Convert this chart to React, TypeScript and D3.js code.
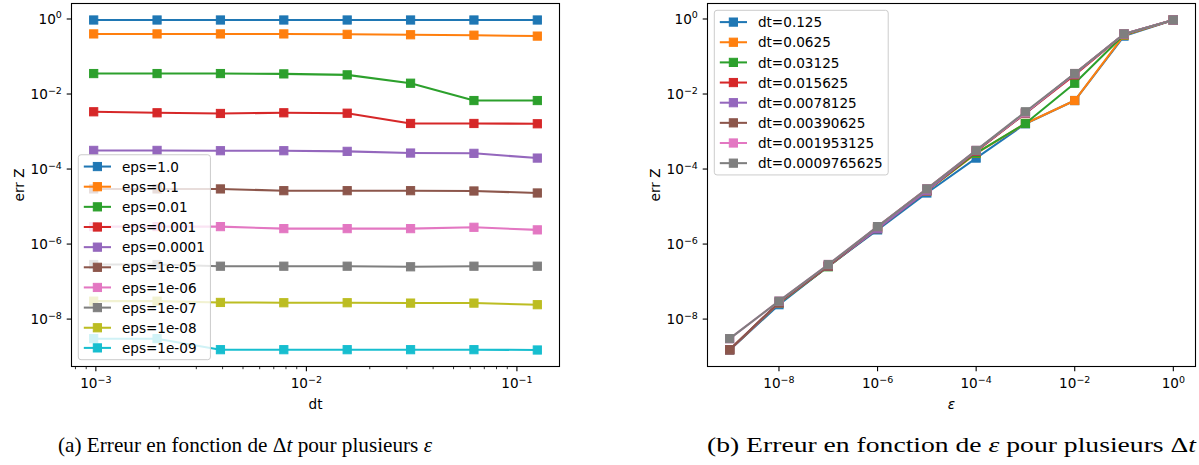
import React, { useMemo } from "react";
import * as d3 from "d3";

// time steps (legend order of the right panel)
const dtValues = [0.125, 0.0625, 0.03125, 0.015625, 0.0078125, 0.00390625, 0.001953125, 0.0009765625];
const dtLabels = [
  "dt=0.125",
  "dt=0.0625",
  "dt=0.03125",
  "dt=0.015625",
  "dt=0.0078125",
  "dt=0.00390625",
  "dt=0.001953125",
  "dt=0.0009765625",
];

const epsValues = [1, 0.1, 0.01, 1e-3, 1e-4, 1e-5, 1e-6, 1e-7, 1e-8, 1e-9];
const epsLabels = [
  "eps=1.0",
  "eps=0.1",
  "eps=0.01",
  "eps=0.001",
  "eps=0.0001",
  "eps=1e-05",
  "eps=1e-06",
  "eps=1e-07",
  "eps=1e-08",
  "eps=1e-09",
];

// err Z for each eps, one value per dt (same order as dtValues)
const errEps1e0 = [0.94, 0.94, 0.94, 0.94, 0.94, 0.94, 0.94, 0.94];
const errEps1e1 = [0.35, 0.37, 0.38, 0.39, 0.4, 0.4, 0.4, 0.4];
const errEps1e2 = [0.0067, 0.0067, 0.0194, 0.0324, 0.0344, 0.0351, 0.0351, 0.0351];
const errEps1e3 = [0.00161, 0.00164, 0.00164, 0.00308, 0.00316, 0.00303, 0.00316, 0.00336];
const errEps1e4 = [1.96e-4, 2.62e-4, 2.67e-4, 2.96e-4, 3.08e-4, 3.08e-4, 3.14e-4, 3.14e-4];
const errEps1e5 = [2.3e-5, 2.6e-5, 2.65e-5, 2.65e-5, 2.65e-5, 2.95e-5, 2.95e-5, 2.95e-5];
const errEps1e6 = [2.39e-6, 2.8e-6, 2.58e-6, 2.58e-6, 2.58e-6, 2.92e-6, 2.92e-6, 2.92e-6];
const errEps1e7 = [2.57e-7, 2.57e-7, 2.48e-7, 2.57e-7, 2.57e-7, 2.57e-7, 2.85e-7, 2.85e-7];
const errEps1e8 = [2.42e-8, 2.67e-8, 2.67e-8, 2.73e-8, 2.73e-8, 2.78e-8, 3.01e-8, 3.01e-8];
const errEps1e9 = [1.5e-9, 1.53e-9, 1.53e-9, 1.53e-9, 1.53e-9, 1.53e-9, 3.01e-9, 3.01e-9];

const errByEps = [
  errEps1e0, errEps1e1, errEps1e2, errEps1e3, errEps1e4,
  errEps1e5, errEps1e6, errEps1e7, errEps1e8, errEps1e9,
];

// tick exponents
const yTickExps = [0, -2, -4, -6, -8];
const xTickExpsDt = [-3, -2, -1];
const xTickExpsEps = [-8, -6, -4, -2, 0];

const palette = d3.schemeCategory10;

const FONT = "DejaVu Sans";
const FS = 13.6;
const SUP = 9.5;
const LW = 2.04;
const MS = 8.2;
const TICK = 4.8;
const MINOR = 2.7;

const TOP = 3.5;
const BOTTOM = 366.5;
const PANEL_A = { x0: 71.5, x1: 559.5 };
const PANEL_B = { x0: 707.5, x1: 1195.5 };

type Pt = [number, number];

function paddedLogDomain(vals: number[]): [number, number] {
  const lo = Math.log10(d3.min(vals)!);
  const hi = Math.log10(d3.max(vals)!);
  const m = (hi - lo) * 0.05;
  return [Math.pow(10, lo - m), Math.pow(10, hi + m)];
}

let ctx: CanvasRenderingContext2D | null = null;
function textWidth(s: string): number {
  if (!ctx) ctx = document.createElement("canvas").getContext("2d");
  if (!ctx) return s.length * FS * 0.6;
  ctx.font = `${FS}px "${FONT}"`;
  return ctx.measureText(s).width;
}

function expLabel(e: number) {
  return e < 0 ? "\u2212" + String(-e) : String(e);
}

function PowText(props: { x: number; y: number; exp: number; anchor: "start" | "middle" | "end" }) {
  const { x, y, exp, anchor } = props;
  return (
    <text x={x} y={y} textAnchor={anchor} fontFamily={FONT} fontSize={FS} fill="#000">
      10
      <tspan dy={-5.5} fontSize={SUP}>
        {expLabel(exp)}
      </tspan>
    </text>
  );
}

function Series(props: { pts: Pt[]; color: string }) {
  const { pts, color } = props;
  const line = d3.line<Pt>().x((d) => d[0]).y((d) => d[1]);
  return (
    <g>
      <path d={line(pts) || ""} fill="none" stroke={color} strokeWidth={LW} strokeLinejoin="round" />
      {pts.map((p, i) => (
        <rect
          key={i}
          x={p[0] - MS / 2}
          y={p[1] - MS / 2}
          width={MS}
          height={MS}
          fill={color}
          stroke={color}
          strokeWidth={1}
        />
      ))}
    </g>
  );
}

function Legend(props: { x: number; y: number; anchorBottom?: boolean; labels: string[]; colors: string[] }) {
  const { labels, colors } = props;
  const step = 20.15;
  const edge = 11.8;
  const pad = 5.5;
  const handle = 27.2;
  const textPad = 10.9;
  const h = (labels.length - 1) * step + 2 * edge;
  const w = pad + handle + textPad + d3.max(labels, (l) => textWidth(l))! + pad;
  const left = props.x;
  const top = props.anchorBottom ? props.y - h : props.y;
  return (
    <g>
      <rect
        x={left}
        y={top}
        width={w}
        height={h}
        rx={2.7}
        ry={2.7}
        fill="#ffffff"
        fillOpacity={0.8}
        stroke="#cccccc"
        strokeWidth={1}
      />
      {labels.map((l, i) => {
        const cy = top + edge + i * step;
        const hx0 = left + pad;
        const hx1 = hx0 + handle;
        const mx = (hx0 + hx1) / 2;
        return (
          <g key={l}>
            <line x1={hx0} x2={hx1} y1={cy} y2={cy} stroke={colors[i]} strokeWidth={LW} />
            <rect x={mx - MS / 2} y={cy - MS / 2} width={MS} height={MS} fill={colors[i]} stroke={colors[i]} strokeWidth={1} />
            <text x={hx1 + textPad} y={cy + 5.1} fontFamily={FONT} fontSize={FS} fill="#000">
              {l}
            </text>
          </g>
        );
      })}
    </g>
  );
}

function Frame(props: { x0: number; x1: number }) {
  return (
    <rect
      x={props.x0}
      y={TOP}
      width={props.x1 - props.x0}
      height={BOTTOM - TOP}
      fill="none"
      stroke="#000"
      strokeWidth={1.1}
    />
  );
}

export default function App() {
  const allErr = useMemo(() => errByEps.flat(), []);
  const yDomain = paddedLogDomain(allErr);

  // panel (a): err vs dt, one curve per eps
  const xA = d3.scaleLog().domain(paddedLogDomain(dtValues)).range([PANEL_A.x0, PANEL_A.x1]);
  const yA = d3.scaleLog().domain(yDomain).range([BOTTOM, TOP]);

  // panel (b): err vs eps, one curve per dt
  const xB = d3.scaleLog().domain(paddedLogDomain(epsValues)).range([PANEL_B.x0, PANEL_B.x1]);
  const yB = d3.scaleLog().domain(yDomain).range([BOTTOM, TOP]);

  const [dA0, dA1] = xA.domain();
  const minorA: number[] = [];
  for (let e = -5; e <= 1; e++) {
    for (let k = 2; k <= 9; k++) {
      const v = k * Math.pow(10, e);
      if (v >= dA0 && v <= dA1) minorA.push(v);
    }
  }

  const yTicks = (x0: number, y: d3.ScaleLogarithmic<number, number>) =>
    yTickExps.map((e) => {
      const py = y(Math.pow(10, e));
      return (
        <g key={e}>
          <line x1={x0 - TICK} x2={x0} y1={py} y2={py} stroke="#000" strokeWidth={1.1} />
          <PowText x={x0 - 2 * TICK} y={py + 5} exp={e} anchor="end" />
        </g>
      );
    });

  const xTicks = (exps: number[], x: d3.ScaleLogarithmic<number, number>) =>
    exps.map((e) => {
      const px = x(Math.pow(10, e));
      return (
        <g key={e}>
          <line x1={px} x2={px} y1={BOTTOM} y2={BOTTOM + TICK} stroke="#000" strokeWidth={1.1} />
          <PowText x={px} y={BOTTOM + 21.6} exp={e} anchor="middle" />
        </g>
      );
    });

  const cA = (PANEL_A.x0 + PANEL_A.x1) / 2;
  const cB = (PANEL_B.x0 + PANEL_B.x1) / 2;
  const midY = (TOP + BOTTOM) / 2;

  return (
    <svg
      width={1199}
      height={465}
      viewBox="0 0 1199 465"
      style={{ position: "absolute", left: 0, top: 0, background: "#fff" }}
    >
      <rect x={0} y={0} width={1199} height={465} fill="#fff" />

      {/* panel (a) */}
      <g>
        {errByEps.map((row, i) => (
          <Series key={i} color={palette[i]} pts={row.map((v, j) => [xA(dtValues[j]), yA(v)] as Pt)} />
        ))}
        <Frame x0={PANEL_A.x0} x1={PANEL_A.x1} />
        {yTicks(PANEL_A.x0, yA)}
        {xTicks(xTickExpsDt, xA)}
        {minorA.map((v) => (
          <line key={v} x1={xA(v)} x2={xA(v)} y1={BOTTOM} y2={BOTTOM + MINOR} stroke="#000" strokeWidth={0.8} />
        ))}
        <text x={cA} y={409} textAnchor="middle" fontFamily={FONT} fontSize={FS}>
          dt
        </text>
        <text
          transform={`translate(${PANEL_A.x0 - 48}, ${midY}) rotate(-90)`}
          textAnchor="middle"
          fontFamily={FONT}
          fontSize={FS}
        >
          err Z
        </text>
        <Legend
          x={PANEL_A.x0 + 6.8}
          y={BOTTOM - 6.8}
          anchorBottom
          labels={epsLabels}
          colors={palette.slice(0, epsLabels.length) as string[]}
        />
      </g>

      {/* panel (b) */}
      <g>
        {dtValues.map((dt, j) => (
          <Series key={dt} color={palette[j]} pts={epsValues.map((e, i) => [xB(e), yB(errByEps[i][j])] as Pt)} />
        ))}
        <Frame x0={PANEL_B.x0} x1={PANEL_B.x1} />
        {yTicks(PANEL_B.x0, yB)}
        {xTicks(xTickExpsEps, xB)}
        <text x={cB} y={409} textAnchor="middle" fontFamily={FONT} fontSize={FS} fontStyle="italic">
          ε
        </text>
        <text
          transform={`translate(${PANEL_B.x0 - 48}, ${midY}) rotate(-90)`}
          textAnchor="middle"
          fontFamily={FONT}
          fontSize={FS}
        >
          err Z
        </text>
        <Legend
          x={PANEL_B.x0 + 6.8}
          y={TOP + 6.8}
          labels={dtLabels}
          colors={palette.slice(0, dtLabels.length) as string[]}
        />
      </g>

      {/* sub-captions */}
      <text
        x={58}
        y={451.5}
        fontFamily="Liberation Serif"
        fontSize={21}
        fill="#000"
        textLength={374}
        lengthAdjust="spacingAndGlyphs"
      >
        (a) Erreur en fonction de Δ<tspan fontStyle="italic">t</tspan> pour plusieurs{" "}
        <tspan fontStyle="italic">ε</tspan>
      </text>
      <text
        x={707}
        y={451.5}
        fontFamily="Liberation Serif"
        fontSize={22}
        fill="#000"
        textLength={489}
        lengthAdjust="spacingAndGlyphs"
      >
        (b) Erreur en fonction de <tspan fontStyle="italic">ε</tspan> pour plusieurs Δ
        <tspan fontStyle="italic">t</tspan>
      </text>
    </svg>
  );
}
